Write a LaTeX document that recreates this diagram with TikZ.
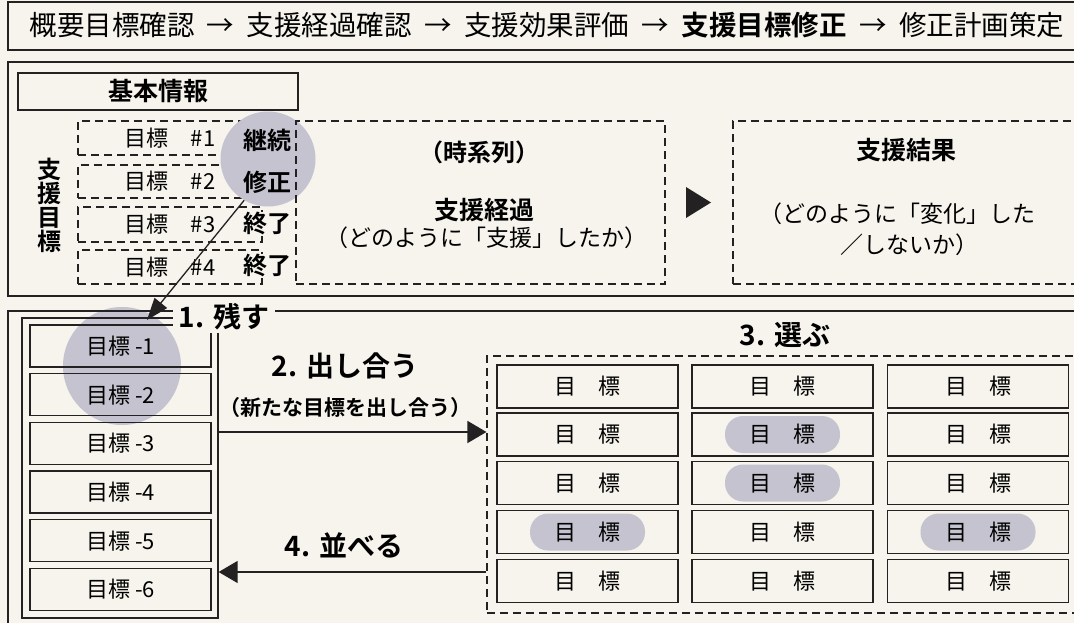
\documentclass[tikz,border=0pt]{standalone}
\usepackage{fontspec}
\setmainfont{Noto Sans CJK JP}[BoldFont={Noto Sans CJK JP Bold}]
\usetikzlibrary{arrows.meta}
\definecolor{paper}{RGB}{246,244,236}
\definecolor{ink}{RGB}{35,33,33}
\definecolor{shade}{RGB}{197,195,207}
\pgfdeclarelayer{paperlayer}
\pgfdeclarelayer{under}
\pgfdeclarelayer{shadelayer}
\pgfsetlayers{paperlayer,under,shadelayer,main}
\newcommand\fs[1]{\fontsize{#1}{#1}\selectfont}
\newcommand\arr{\hspace{12.5pt}→\hspace{12.5pt}}
\newcommand\LP{\kern-.4em（}
\newcommand\RP{）\kern-.4em}
\begin{document}
\begin{tikzpicture}[x=1pt,y=-1pt,
  panel/.style={draw=ink,line width=1.5pt,rectangle,inner sep=0pt},
  box/.style={draw=ink,line width=1.3pt,rectangle,inner sep=0pt},
  dbox/.style={draw=ink,line width=1.1pt,rectangle,inner sep=0pt,dash pattern=on 8pt off 5pt},
  lab/.style={inner sep=0pt,font=\bfseries\fs{24}},
  txt/.style={inner sep=0pt,font=\fs{23}},
  stepl/.style={inner sep=0pt,font=\bfseries\fs{28}},
  gbox/.style={draw=ink,line width=1.2pt,rectangle,inner sep=0pt,minimum width=181pt,minimum height=43pt,font=\fs{22}},
  pill/.style={fill=shade,rectangle,rounded corners=18pt,minimum width=115pt,minimum height=37pt,inner sep=0pt},
  item/.style={draw=ink,line width=1.3pt,rectangle,inner sep=0pt,minimum width=181pt,minimum height=42pt,font=\fs{22}},
  row/.style={dbox,minimum width=184pt,minimum height=34pt,font=\fs{22}},
  arrowline/.style={draw=ink,line width=1.4pt,-{Triangle[length=19pt,width=22pt]}}
]
\begin{pgfonlayer}{paperlayer}
  \fill[paper] (0,0) rectangle (1074,623);
\end{pgfonlayer}
\useasboundingbox (0,0) rectangle (1074,623);
\clip (0,0) rectangle (1074,623);

% banner
\node[panel,minimum width=1092pt,minimum height=48pt] (banner) at (554,26) {};
\node[inner sep=0pt,font=\fs{27.5}] (bannertext) at (547,25)
  {概要目標確認\arr 支援経過確認\arr 支援効果評価\arr \textbf{支援目標修正}\arr 修正計画策定};

% upper panel
\node[panel,minimum width=1092pt,minimum height=234pt] (upper) at (554,179) {};
\node[box,minimum width=280pt,minimum height=37pt,font=\bfseries\fs{25}] (kihon) at (158,91.5) {基本情報};
\node[inner sep=0pt,font=\bfseries\fs{24},align=center] (shienlabel) at (49,205) {支\\援\\目\\標};

\begin{pgfonlayer}{under}
  \node[row] (r1) at (170,138) {目標　\#1};
  \node[row,minimum height=33pt] (r2) at (170,181.5) {目標　\#2};
  \node[row,minimum height=35pt] (r3) at (170,224.5) {目標　\#3};
  \node[row] (r4) at (170,267) {目標　\#4};
\end{pgfonlayer}
\begin{pgfonlayer}{shadelayer}
  \node[circle,fill=shade,minimum size=95pt,inner sep=0pt] (hc1) at (268,159) {};
  \node[circle,fill=shade,minimum size=118pt,inner sep=0pt] (hc2) at (122,366) {};
\end{pgfonlayer}
\node[lab] (l1) at (267,140) {継続};
\node[lab] (l2) at (267,182) {修正};
\node[lab,fill=paper] (l3) at (267,223) {終了};
\node[lab,fill=paper] (l4) at (267,265) {終了};

\node[dbox,minimum width=369pt,minimum height=163pt] (keika) at (480.5,202.5) {};
\node[inner sep=0pt,font=\bfseries\fs{24}] (jikeiretsu) at (479,152) {\LP 時系列\RP};
\node[inner sep=0pt,font=\bfseries\fs{25}] (keikat) at (484,210) {支援経過};
\node[txt] (keikas) at (486,238) {\LP どのように「支援」したか\RP};

\fill[ink] (686,187) -- (711,202.5) -- (686,218) -- cycle;

\node[dbox,minimum width=367pt,minimum height=163pt] (kekka) at (916.5,202.5) {};
\node[inner sep=0pt,font=\bfseries\fs{25}] (kekkat) at (906,150) {支援結果};
\node[txt] (kekkas1) at (902,214) {\LP どのように「変化」した};
\node[txt] (kekkas2) at (905,245) {／しないか\RP};

% lower panel
\node[panel,minimum width=1092pt,minimum height=329pt] (lower) at (554,475.5) {};
\node[box,minimum width=196pt,minimum height=300pt] (cont) at (120,468) {};
\node[item] (i1) at (120.5,346) {目標 -1};
\node[item] (i2) at (120.5,394.7) {目標 -2};
\node[item] (i3) at (120.5,443.4) {目標 -3};
\node[item] (i4) at (120.5,492.1) {目標 -4};
\node[item] (i5) at (120.5,540.8) {目標 -5};
\node[item] (i6) at (120.5,589.5) {目標 -6};

\node[fill=paper,inner xsep=6pt,inner ysep=0pt,minimum height=31pt,font=\bfseries\fs{28}] (s1) at (224,317) {1. 残す};
\coordinate (tip1) at (147,320);
\draw[draw=ink,line width=1.3pt,-{Triangle[length=22pt,width=16pt]}] (hc1.240) -- (tip1);

\node[stepl] (s2) at (345,366) {2. 出し合う};
\node[inner sep=0pt,font=\bfseries\fs{21}] (s2b) at (345,408) {\LP 新たな目標を出し合う\RP};
\node[stepl] (s4) at (344,545) {4. 並べる};
\node[stepl] (s3) at (785,335) {3. 選ぶ};

\node[dbox,minimum width=613pt,minimum height=257pt] (sel) at (793.5,484.5) {};

\begin{pgfonlayer}{shadelayer}
  \node[pill] (p22) at (782.5,434.5) {};
  \node[pill] (p23) at (782.5,483) {};
  \node[pill] (p14) at (587.5,532) {};
  \node[pill] (p34) at (978,532) {};
\end{pgfonlayer}
\foreach \cx [count=\c] in {587.5,782.5,978}{
  \foreach \ry [count=\r] in {386.5,434.5,483,532,581}{
    \node[gbox] (g-\c-\r) at (\cx,\ry) {目　標};
  }
}

\draw[arrowline] (cont.east |- 0,432) -- (sel.west |- 0,432);
\draw[arrowline] (sel.west |- 0,572) -- (cont.east |- 0,572);
\end{tikzpicture}
\end{document}
